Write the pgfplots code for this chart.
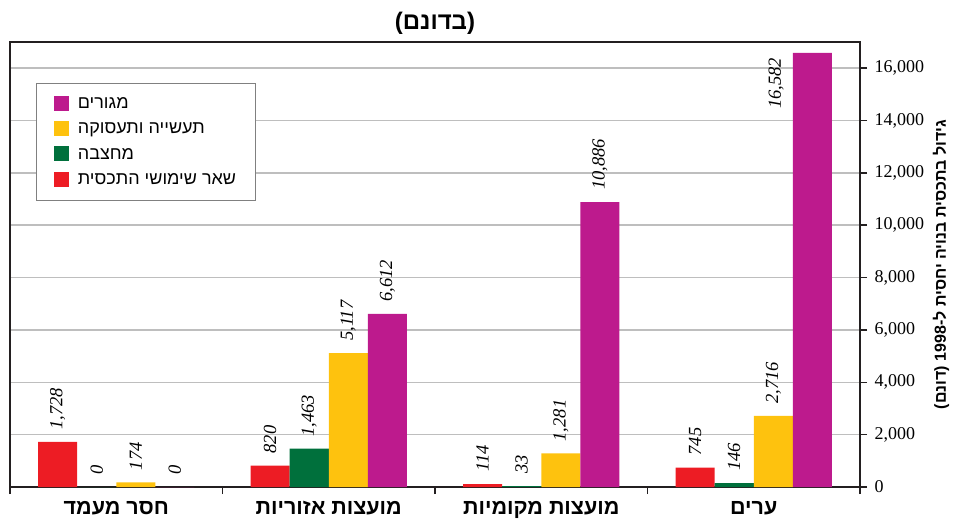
\documentclass[border=0pt]{standalone}
\usepackage{fontspec}
\setmainfont{Liberation Serif}
\newfontfamily\hebfont[Script=Hebrew]{Liberation Sans}
\usepackage{pgfplots}
\pgfplotsset{compat=1.18}
\TeXXeTstate=1
\newcommand{\heb}[1]{{\hebfont\beginR #1\endR}}

\definecolor{cRed}{HTML}{ED1C24}
\definecolor{cGreen}{HTML}{00703C}
\definecolor{cYellow}{HTML}{FEC20E}
\definecolor{cPurple}{HTML}{BD1A8D}
\definecolor{cAxis}{HTML}{231F20}
\definecolor{cGrid}{HTML}{BEBEBE}

\begin{document}
\begin{tikzpicture}
\begin{axis}[
  scale only axis, width=850pt, height=445pt,
  ybar=0pt, bar width=0.184,
  xmin=-0.5, xmax=3.5, ymin=0, ymax=17000,
  xtick={-0.5,0.5,1.5,2.5,3.5}, xticklabels={},
  extra x ticks={0,1,2,3},
  extra x tick labels={\heb{חסר מעמד},\heb{מועצות אזוריות},\heb{מועצות מקומיות},\heb{ערים}},
  extra x tick style={major tick length=0pt,
    xticklabel style={font=\hebfont\bfseries\fontsize{21.5}{25}\selectfont, yshift=-11pt}},
  ytick={0,2000,4000,6000,8000,10000,12000,14000,16000},
  scaled y ticks=false,
  ytick pos=right, yticklabel pos=right, xtick pos=left,
  tick align=outside, major tick length=7pt,
  tick style={cAxis, line width=1.5pt},
  axis line style={cAxis, line width=2pt},
  ymajorgrids, grid style={cGrid, line width=1.5pt},
  /pgf/number format/1000 sep={,},
  /pgf/number format/assume math mode=true,
  yticklabel style={font=\fontsize{18}{22}\selectfont, xshift=4pt},
  title={\heb{(בדונם)}},
  title style={font=\hebfont\bfseries\fontsize{24}{28}\selectfont, yshift=-2pt},
  ylabel={\heb{גידול בתכסית בנויה יחסית ל-1998 (דונם)}},
  ylabel style={font=\hebfont\bfseries\fontsize{16}{20}\selectfont, yshift=-2pt},
  every node near coord/.append style={rotate=90, anchor=west, black,
    font=\itshape\fontsize{18.5}{22}\selectfont, inner xsep=12pt, inner ysep=0pt},
  legend style={at={(0.031,0.908)}, anchor=north west, draw=gray, line width=1pt,
    font=\hebfont\fontsize{18}{22}\selectfont, row sep=9pt,
    inner xsep=17pt, inner ysep=12pt, cells={anchor=west}},
  legend image code/.code={\fill[#1] (0pt,-7pt) rectangle (15pt,8pt); \path (22pt,0pt);},
  reverse legend,
  clip=false,
]
\addplot[draw=none, fill=cRed, nodes near coords] coordinates {(0,1728) (1,820) (2,114) (3,745)};
\addlegendentry{\heb{שאר שימושי התכסית}}
\addplot[draw=none, fill=cGreen, nodes near coords] coordinates {(0,0) (1,1463) (2,33) (3,146)};
\addlegendentry{\heb{מחצבה}}
\addplot[draw=none, fill=cYellow, nodes near coords] coordinates {(0,174) (1,5117) (2,1281) (3,2716)};
\addlegendentry{\heb{תעשייה ותעסוקה}}
\addplot[draw=none, fill=cPurple, point meta=explicit symbolic, nodes near coords]
  coordinates {(0,0) [0] (1,6612) [6,612] (2,10886) [10,886] (3,16582) []};
\addlegendentry{\heb{מגורים}}
\node[rotate=90, anchor=east, font=\itshape\fontsize{18.5}{22}\selectfont, inner sep=0pt]
  at (axis cs:3.105,16400) {16,582};
\end{axis}
\path (current axis.south west) ++(-10pt,-41pt);
\path (current axis.north west) ++(0pt,42pt);
\path (current axis.north east) ++(103pt,0pt);
\end{tikzpicture}
\end{document}
